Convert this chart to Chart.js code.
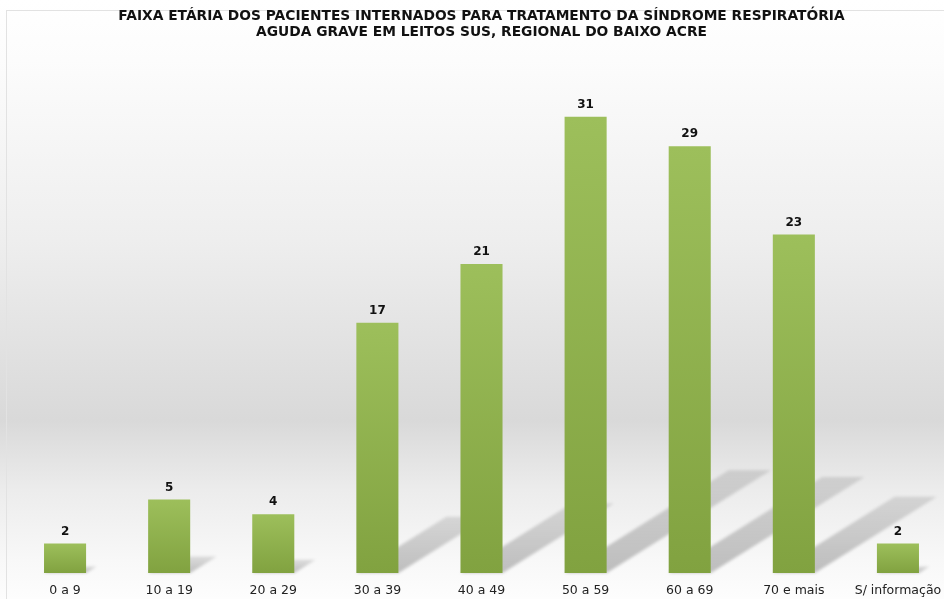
<!DOCTYPE html>
<html>
<head>
<meta charset="utf-8">
<script src="https://cdn.jsdelivr.net/npm/chart.js@4/dist/chart.umd.min.js"></script>
<style>
  html, body { margin: 0; padding: 0; overflow: hidden; background: #fff; }
  #wrap { width: 952px; height: 599px; }
</style>
</head>
<body>
<div id="wrap"><canvas id="faixaChart"></canvas></div>
<script>
const ageGroups = ['0 a 9', '10 a 19', '20 a 29', '30 a 39', '40 a 49', '50 a 59', '60 a 69', '70 e mais', 'S/ informação'];
const patients = [2, 5, 4, 17, 21, 31, 29, 23, 2];
const titleLines = [
  'FAIXA ETÁRIA DOS PACIENTES INTERNADOS PARA TRATAMENTO DA SÍNDROME RESPIRATÓRIA',
  'AGUDA GRAVE EM LEITOS SUS, REGIONAL DO BAIXO ACRE'
];

// gray backdrop + thin frame
const backdrop = {
  id: 'backdrop',
  beforeDraw(chart) {
    const ctx = chart.ctx;
    const h = chart.height;
    const g = ctx.createLinearGradient(0, 0, 0, h);
    g.addColorStop(0, '#ffffff');
    g.addColorStop(60 / h, '#fcfcfc');
    g.addColorStop(240 / h, '#eeeeee');
    g.addColorStop(420 / h, '#d9d9d9');
    g.addColorStop(490 / h, '#ececec');
    g.addColorStop(560 / h, '#f8f8f8');
    g.addColorStop(1, '#fdfdfd');
    ctx.save();
    ctx.fillStyle = g;
    ctx.fillRect(0, 0, chart.width, h);
    ctx.strokeStyle = '#e2e2e2';
    ctx.lineWidth = 1;
    ctx.strokeRect(6.5, 10.5, chart.width, h);
    ctx.restore();
  }
};

// slanted shadows behind bars
const barShadows = {
  id: 'barShadows',
  beforeDatasetsDraw(chart) {
    const ctx = chart.ctx;
    const meta = chart.getDatasetMeta(0);
    ctx.save();
    ctx.filter = 'blur(1.5px)';
    meta.data.forEach(bar => {
      const hgt = bar.base - bar.y;
      const l = bar.x - bar.width / 2;
      const r = bar.x + bar.width / 2;
      const dx = hgt * 0.36, dy = hgt * 0.225;
      const g = ctx.createLinearGradient(0, bar.base, 0, bar.base - dy);
      g.addColorStop(0, 'rgba(0,0,0,0.24)');
      g.addColorStop(1, 'rgba(0,0,0,0.11)');
      ctx.fillStyle = g;
      ctx.beginPath();
      ctx.moveTo(l, bar.base);
      ctx.lineTo(r, bar.base);
      ctx.lineTo(r + dx, bar.base - dy);
      ctx.lineTo(l + dx, bar.base - dy);
      ctx.closePath();
      ctx.fill();
    });
    ctx.restore();
  }
};

// values on top of bars
const valueLabels = {
  id: 'valueLabels',
  afterDatasetsDraw(chart) {
    const ctx = chart.ctx;
    const meta = chart.getDatasetMeta(0);
    ctx.save();
    ctx.font = 'bold 12px "DejaVu Sans", sans-serif';
    ctx.fillStyle = '#111';
    ctx.textAlign = 'center';
    ctx.textBaseline = 'middle';
    meta.data.forEach((bar, i) => {
      ctx.fillText(patients[i], bar.x, bar.y - 12);
    });
    ctx.restore();
  }
};

const data = {
  labels: ageGroups,
  datasets: [{
    data: patients,
    backgroundColor: (c) => {
      const chart = c.chart;
      if (!chart.chartArea || c.dataIndex === undefined) return '#8fb04c';
      const y = chart.scales.y;
      const top = y.getPixelForValue(patients[c.dataIndex]);
      const bottom = y.getPixelForValue(0);
      const g = chart.ctx.createLinearGradient(0, top, 0, bottom);
      g.addColorStop(0, '#9dbf5b');
      g.addColorStop(1, '#81a240');
      return g;
    },
    borderWidth: 0,
    categoryPercentage: 1,
    barPercentage: 0.404
  }]
};

const config = {
  type: 'bar',
  data: data,
  options: {
    responsive: true,
    maintainAspectRatio: false,
    animation: false,
    layout: { padding: { left: 13, right: 2, top: 0, bottom: -9 } },
    plugins: {
      legend: { display: false },
      tooltip: { enabled: false },
      title: {
        display: true,
        text: titleLines,
        color: '#111',
        font: { family: '"DejaVu Sans", sans-serif', size: 13.8, weight: 'bold', lineHeight: '16px' },
        padding: { top: 8, bottom: 18 }
      }
    },
    scales: {
      x: {
        grid: { display: false, drawTicks: false },
        border: { display: false },
        ticks: {
          color: '#222',
          padding: 10,
          maxRotation: 0,
          autoSkip: false,
          font: { family: '"DejaVu Sans", sans-serif', size: 12.5 }
        }
      },
      y: {
        display: false,
        min: 0,
        max: 35
      }
    }
  },
  plugins: [backdrop, barShadows, valueLabels]
};

const faixaChart = new Chart(document.getElementById('faixaChart'), config);
</script>
</body>
</html>
